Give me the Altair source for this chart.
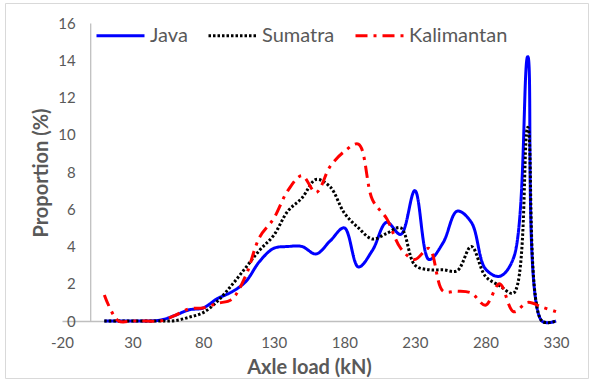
import altair as alt
import pandas as pd

# ---- data ----
axle_load = [10, 20, 30, 40, 50, 60, 70, 80, 90, 100, 110, 120, 130, 140, 150, 160,
             170, 180, 190, 200, 210, 220, 230, 240, 250, 260, 270, 280, 290, 300,
             310, 320, 330]
java = [0, 0, 0, 0, 0.05, 0.3, 0.6, 0.7, 1.2, 1.55, 2.1, 3.2, 3.9, 4.0, 4.0, 3.6,
        4.3, 5.0, 2.9, 3.8, 5.3, 4.65, 7.0, 3.3, 4.2, 5.9, 5.3, 2.8, 2.4, 3.4,
        14.2, 0, 0]
sumatra = [0, 0, 0, 0, 0, 0.02, 0.2, 0.45, 1.05, 1.9, 2.85, 3.8, 4.6, 5.9, 6.6, 7.6,
           7.2, 5.8, 5.0, 4.4, 4.7, 5.0, 3.0, 2.75, 2.75, 2.7, 4.0, 2.4, 1.9, 1.5,
           10.4, 0, 0]
kalimantan = [1.4, 0, 0, 0, 0, 0.3, 0.65, 0.7, 0.95, 1.15, 2.4, 4.5, 5.5, 7.0, 7.8, 6.9,
              8.3, 9.1, 9.5, 6.5, 5.5, 3.9, 3.3, 3.9, 1.6, 1.6, 1.5, 0.85, 2.0, 0.5,
              1.0, 0.75, 0.5]
series_names = ["Java", "Sumatra", "Kalimantan"]
x_ticks = [-20, 30, 80, 130, 180, 230, 280, 330]
y_ticks = [0, 2, 4, 6, 8, 10, 12, 14, 16]

rows = []
for name, vals in zip(series_names, [java, sumatra, kalimantan]):
    for xv, yv in zip(axle_load, vals):
        rows.append({"load": xv, "prop": yv, "region": name})
df = pd.DataFrame(rows)

FONT = "Lato"
TXT = "#595959"
AXC = "#BFBFBF"

x_scale = alt.Scale(domain=[-20, 330], nice=False, zero=False)
y_scale = alt.Scale(domain=[0, 16], nice=False)

lines = alt.Chart(df).mark_line(interpolate="catmull-rom", strokeWidth=3).encode(
    x=alt.X("load:Q", scale=x_scale,
            axis=alt.Axis(values=x_ticks, title="Axle load (kN)", grid=False, ticks=False,
                          domainColor=AXC, domainWidth=1.3, labelFlush=False,
                          labelBound=False,
                          labelExpr="'' + datum.value", labelPadding=14,
                          labelFontSize=15, labelColor=TXT, labelFont=FONT,
                          titleFontSize=20, titleFont=FONT, titleColor=TXT,
                          titleFontWeight="bold", titleBaseline="alphabetic",
                          titleY=52)),
    y=alt.Y("prop:Q", scale=y_scale,
            axis=alt.Axis(values=y_ticks, title="Proportion (%)", grid=False, ticks=False,
                          offset=-28.2, domainColor=AXC, domainWidth=1.3,
                          labelFlush=False, labelBound=False,
                          labelPadding=15, labelFontSize=15, labelColor=TXT,
                          labelFont=FONT, titleFontSize=20, titleFont=FONT,
                          titleColor=TXT, titleFontWeight="bold",
                          titleBaseline="alphabetic", titleX=-43, titleY=149.5)),
    color=alt.Color("region:N",
                    scale=alt.Scale(domain=series_names,
                                    range=["#0000FF", "#000000", "#FF0000"]),
                    legend=alt.Legend(title=None, orient="none", legendX=33, legendY=-13,
                                      direction="horizontal", symbolType="stroke",
                                      symbolSize=2304, symbolStrokeWidth=3,
                                      labelFont=FONT, labelFontSize=20, labelColor=TXT,
                                      labelOffset=4, columnPadding=14)),
    strokeDash=alt.StrokeDash("region:N",
                              scale=alt.Scale(domain=series_names,
                                              range=[[1, 0], [2.5, 2], [12, 6, 3, 6]]),
                              legend=None),
    order=alt.Order("load:Q"),
)

border = alt.Chart(pd.DataFrame({"a": [0]})).mark_rect(
    fill=None, stroke="#D9D9D9", strokeWidth=1
).encode(x=alt.value(-56.5), x2=alt.value(526.5), y=alt.value(-19.5), y2=alt.value(355.5))

chart = alt.layer(border, lines).properties(
    width=494, height=298,
    padding={"left": 62, "top": 23, "right": 34, "bottom": 61},
    autosize=alt.AutoSizeParams(type="none"),
    background="white",
).configure_view(stroke=None)

chart.save("out.html", embed_options={"renderer": "svg", "actions": False})
